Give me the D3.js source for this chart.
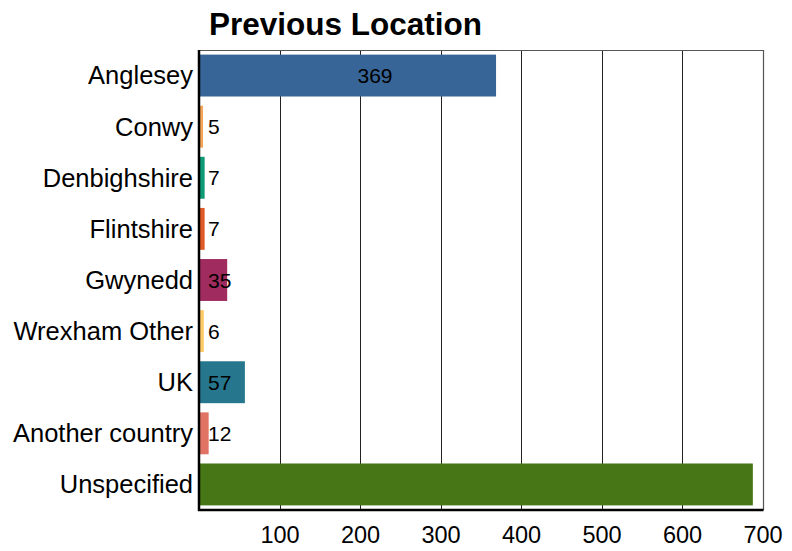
<!DOCTYPE html>
<html>
<head>
<meta charset="utf-8">
<script src="https://cdn.jsdelivr.net/npm/d3@7"></script>
<style>
  body { margin: 0; background: #fff; }
  svg { font-family: "Liberation Sans", Arial, sans-serif; }
</style>
</head>
<body>
<svg id="chart" width="792" height="551"></svg>
<script>
const categories = ['Anglesey', 'Conwy', 'Denbighshire', 'Flintshire', 'Gwynedd', 'Wrexham Other', 'UK', 'Another country', 'Unspecified']
const counts = [369, 5, 7, 7, 35, 6, 57, 12, 688]
// the reference shows no label on the last bar
const countLabels = ['369', '5', '7', '7', '35', '6', '57', '12', null]
const colours = ['#386597', '#f4a55a', '#0e9a74', '#e05a28', '#a02b5f', '#fdcb6a', '#26768d', '#e07364', '#467615']
const xTicks = [100, 200, 300, 400, 500, 600, 700]
const title = 'Previous Location'

const width = 792, height = 551
const padding = { top: 50, right: 30, bottom: 41, left: 199 }

const data = categories.map((c, i) => ({ cat: c, value: counts[i], label: countLabels[i], color: colours[i] }))

const svg = d3.select('#chart')

const scaleX = d3.scaleLinear()
  .domain([0, 700])
  .range([padding.left, width - padding.right + 0.5])
const scaleY = d3.scaleBand()
  .domain(categories)
  .range([padding.top, height - padding.bottom])
  .paddingInner(0.18)
  .paddingOuter(0.09)

// grid lines
svg.append('g')
  .selectAll('line')
  .data(xTicks.slice(0, -1))
  .join('line')
  .attr('x1', d => Math.round(scaleX(d)) + 0.5)
  .attr('x2', d => Math.round(scaleX(d)) + 0.5)
  .attr('y1', padding.top)
  .attr('y2', height - padding.bottom)
  .attr('stroke', '#222')
  .attr('stroke-width', 1)

// frame: top + right
const x0 = padding.left, x1 = Math.round(scaleX(700)) + 0.5
const yTop = padding.top + 0.5, yBot = height - padding.bottom
svg.append('path')
  .attr('d', `M${x0},${yTop}H${x1}V${yBot}`)
  .attr('fill', 'none')
  .attr('stroke', '#555')
  .attr('stroke-width', 1.2)

// bars
svg.append('g')
  .selectAll('rect')
  .data(data)
  .join('rect')
  .attr('x', scaleX(0))
  .attr('y', d => scaleY(d.cat))
  .attr('width', d => scaleX(d.value) - scaleX(0))
  .attr('height', scaleY.bandwidth())
  .attr('fill', d => d.color)

// value labels
svg.append('g')
  .selectAll('text')
  .data(data.filter(d => d.label != null))
  .join('text')
  .attr('x', d => d.value >= 100 ? scaleX(d.value) - 121 : scaleX(0) + 9)
  .attr('y', d => scaleY(d.cat) + scaleY.bandwidth() / 2)
  .attr('dy', '0.36em')
  .attr('text-anchor', d => d.value >= 100 ? 'middle' : 'start')
  .attr('font-size', 21)
  .attr('fill', '#000')
  .text(d => d.label)

// y axis
const yAxis = svg.append('g')
  .attr('transform', `translate(${padding.left},0)`)
  .call(d3.axisLeft(scaleY).tickSize(0).tickPadding(6))
yAxis.select('.domain').remove()
yAxis.selectAll('text')
  .attr('font-size', 25.5)
  .attr('dy', '0.35em')
  .attr('fill', '#000')
  .attr('font-family', '"Liberation Sans", Arial, sans-serif')
svg.append('line')
  .attr('x1', padding.left).attr('x2', padding.left)
  .attr('y1', padding.top).attr('y2', height - padding.bottom + 1)
  .attr('stroke', '#000').attr('stroke-width', 2.5)

// x axis
const xAxis = svg.append('g')
  .attr('transform', `translate(0,${height - padding.bottom})`)
  .call(d3.axisBottom(scaleX).tickValues(xTicks).tickSize(0).tickPadding(16))
xAxis.select('.domain').remove()
xAxis.selectAll('text')
  .attr('font-size', 23.5)
  .attr('fill', '#000')
  .attr('font-family', '"Liberation Sans", Arial, sans-serif')
svg.append('line')
  .attr('x1', padding.left - 1).attr('x2', x1)
  .attr('y1', height - padding.bottom).attr('y2', height - padding.bottom)
  .attr('stroke', '#000').attr('stroke-width', 2.5)

// title
svg.append('text')
  .attr('x', 209)
  .attr('y', 35)
  .attr('font-size', 31.5)
  .attr('font-weight', 'bold')
  .attr('fill', '#000')
  .text(title)
</script>
</body>
</html>
